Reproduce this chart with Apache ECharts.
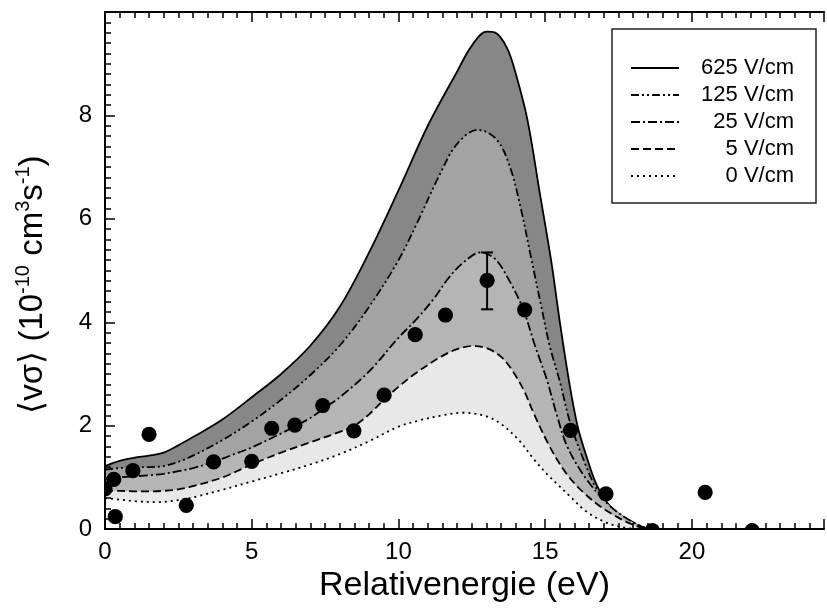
<!DOCTYPE html>
<html>
<head>
<meta charset="utf-8">
<script src="https://cdn.jsdelivr.net/npm/echarts@6/dist/echarts.min.js"></script>
<style>html,body{margin:0;padding:0;background:#fff}#c{width:827px;height:608px}</style>
</head>
<body>
<div id="c"></div>
<script>
// ---- data ----
const names = ['625 V/cm', '125 V/cm', '25 V/cm', '5 V/cm', '0 V/cm'];

const x625 = [0, 0.5, 1, 1.5, 2, 2.5, 3, 4, 5, 6, 7, 8, 9, 10, 11, 12, 12.5, 13, 13.3, 13.7, 14, 14.4, 14.8, 15.2, 15.5, 15.8, 16.1, 16.4, 16.75, 17.2, 17.8, 18.3, 18.6];
const y625 = [1.22, 1.32, 1.38, 1.42, 1.48, 1.62, 1.78, 2.12, 2.55, 3.0, 3.55, 4.3, 5.35, 6.55, 7.8, 8.85, 9.35, 9.62, 9.6, 9.3, 8.8, 7.9, 6.55, 5.2, 4.0, 2.9, 2.0, 1.42, 0.86, 0.45, 0.18, 0.04, 0];

const x125 = [0, 0.5, 1, 1.5, 2, 2.5, 3, 4, 5, 6, 7, 8, 9, 10, 10.7, 11.4, 12, 12.7, 13.35, 13.8, 14.15, 14.5, 14.85, 15.15, 15.5, 15.85, 16.3, 16.75, 17.3, 18, 18.5];
const y125 = [1.15, 1.18, 1.2, 1.2, 1.22, 1.3, 1.42, 1.72, 2.08, 2.5, 2.98, 3.55, 4.3, 5.2, 6.0, 6.85, 7.45, 7.72, 7.53, 7.0, 6.25, 5.3, 4.35, 3.55, 2.85, 2.06, 1.35, 0.78, 0.39, 0.13, 0];

const x25 = [0, 0.5, 1, 1.5, 2, 2.5, 3, 3.7, 4.5, 5, 6, 7, 7.5, 8, 9, 10, 10.6, 11.2, 11.7, 12.2, 12.8, 13.3, 13.8, 14.25, 14.65, 15.05, 15.4, 15.75, 16.4, 17.2, 18, 18.5];
const y25 = [0.98, 1.0, 1.02, 1.04, 1.07, 1.12, 1.18, 1.3, 1.47, 1.58, 1.85, 2.15, 2.35, 2.55, 3.05, 3.7, 4.05, 4.45, 4.85, 5.15, 5.35, 5.22, 4.78, 4.25, 3.55, 2.9, 2.2, 1.6, 0.97, 0.45, 0.13, 0];

const x5 = [0, 0.5, 1, 1.5, 2, 2.5, 3, 4, 5, 6, 7, 8, 8.5, 9, 9.5, 10, 10.6, 11.5, 12, 12.5, 13, 13.5, 13.9, 14.3, 14.6, 15.15, 15.7, 16.3, 17, 17.8, 18.4];
const y5 = [0.74, 0.74, 0.73, 0.73, 0.74, 0.77, 0.83, 1.0, 1.25, 1.48, 1.68, 1.88, 2.0, 2.22, 2.5, 2.75, 3.02, 3.35, 3.48, 3.54, 3.5, 3.33, 3.05, 2.65, 2.25, 1.6, 1.09, 0.71, 0.39, 0.13, 0];

const x0 = [0, 0.5, 1, 1.75, 2.5, 3.2, 4, 5, 6, 7, 8, 9, 10, 10.7, 11.5, 12.2, 13, 13.5, 14.1, 14.6, 15.05, 15.5, 15.85, 16.4, 17.1, 17.6, 18.1];
const y0 = [0.6, 0.57, 0.54, 0.52, 0.56, 0.64, 0.76, 0.92, 1.08, 1.25, 1.45, 1.7, 1.98, 2.1, 2.2, 2.25, 2.18, 2.03, 1.72, 1.36, 1.07, 0.82, 0.63, 0.34, 0.12, 0.04, 0];

const ptX = [0.0, 0.3, 0.35, 0.95, 1.5, 2.77, 3.7, 5.0, 5.68, 6.47, 7.42, 8.48, 9.51, 10.57, 11.6, 13.02, 14.3, 15.86, 17.07, 18.65, 20.45, 22.05];
const ptY = [0.78, 0.96, 0.24, 1.13, 1.83, 0.46, 1.3, 1.31, 1.95, 2.01, 2.39, 1.9, 2.59, 3.76, 4.14, 4.81, 4.24, 1.91, 0.68, -0.03, 0.71, -0.03];

const errX = [13.02];
const errLow = [4.25];
const errHigh = [5.35];

const xTicks = [0, 5, 10, 15, 20];
const yTicks = [0, 2, 4, 6, 8];

// ---- chart ----
const FONT = '"Liberation Sans", Arial, Helvetica, sans-serif';
const fills = ['#878787', '#a3a3a3', '#b5b5b5', '#e8e8e8', '#ffffff'];
const dashes = ['solid', [8, 3, 2, 3, 2, 3], [9, 3, 2, 3], [8, 4], [2, 4]];
const xs = [x625, x125, x25, x5, x0];
const ys = [y625, y125, y25, y5, y0];

const chart = echarts.init(document.getElementById('c'), null, {renderer: 'canvas'});

const lineSeries = names.map((n, i) => ({
  name: n,
  type: 'line',
  data: xs[i].map((x, k) => [x, ys[i][k]]),
  smooth: 0.35,
  symbol: 'none',
  z: 2 + i,
  color: '#000',
  lineStyle: {color: '#000', width: 1.8, type: dashes[i]},
  areaStyle: {color: fills[i], opacity: 1},
  silent: true
}));

const axisCommon = {
  type: 'value',
  min: 0,
  z: 8,
  axisLine: {show: true, onZero: false, lineStyle: {color: '#000', width: 2}},
  axisTick: {show: true, inside: true, length: 10, lineStyle: {color: '#000', width: 1.5}},
  minorTick: {show: true, splitNumber: 10, length: 6, lineStyle: {color: '#000', width: 1.5}},
  splitLine: {show: false},
  minorSplitLine: {show: false}
};

const option = {
  animation: false,
  backgroundColor: '#fff',
  grid: {left: 105, right: 3, top: 12, bottom: 78, containLabel: false},
  xAxis: [
    Object.assign({}, axisCommon, {
      max: 24.5, interval: 5, position: 'bottom',
      axisLabel: {
        show: true, margin: 11, fontSize: 24, fontFamily: FONT, color: '#000',
        showMaxLabel: false,
        formatter: v => (xTicks.indexOf(v) >= 0 ? String(v) : '')
      },
      name: 'Relativenergie (eV)',
      nameLocation: 'middle', nameGap: 36,
      nameTextStyle: {fontSize: 34, fontFamily: FONT, color: '#000'}
    }),
    Object.assign({}, axisCommon, {
      max: 24.5, interval: 5, position: 'top',
      axisLabel: {show: false}
    })
  ],
  yAxis: Object.assign({}, axisCommon, {
    max: 10, interval: 2, position: 'left',
    axisLabel: {
      show: true, margin: 13, fontSize: 24, fontFamily: FONT, color: '#000',
      showMaxLabel: false,
      formatter: v => (yTicks.indexOf(v) >= 0 ? String(v) : '')
    },
    name: '{a|⟨vσ⟩ (10}{s|-10}{a| cm}{s|3}{a|s}{s|-1}{a|)}',
    nameLocation: 'middle', nameRotate: 90, nameGap: 52,
    nameTextStyle: {
      padding: [0, 28, 0, 0],
      rich: {
        a: {fontSize: 33, fontFamily: FONT, color: '#000', lineHeight: 40, verticalAlign: 'middle'},
        s: {fontSize: 20, fontFamily: FONT, color: '#000', lineHeight: 16, verticalAlign: 'top'}
      }
    }
  }),
  legend: {
    show: true,
    data: names,
    orient: 'vertical',
    left: 612, top: 29,
    padding: [28, 22, 16, 18],
    itemWidth: 48, itemHeight: 14, itemGap: 5,
    borderColor: '#222', borderWidth: 1.5, backgroundColor: '#fff',
    selectedMode: false,
    z: 20,
    itemStyle: {color: 'rgba(0,0,0,0)', opacity: 0, borderWidth: 0},
    formatter: n => '{r|' + n + '}',
    textStyle: {
      color: '#000',
      rich: {r: {width: 110, align: 'right', fontSize: 22, lineHeight: 21, fontFamily: FONT, color: '#000'}}
    }
  },
  series: lineSeries.concat([
    {
      name: 'err',
      type: 'custom',
      z: 10,
      clip: true,
      data: errX.map((x, i) => [x, errLow[i], errHigh[i]]),
      renderItem: (params, api) => {
        const lo = api.coord([api.value(0), api.value(1)]);
        const hi = api.coord([api.value(0), api.value(2)]);
        const w = 6;
        const st = {stroke: '#000', lineWidth: 2};
        return {
          type: 'group',
          children: [
            {type: 'line', shape: {x1: lo[0], y1: lo[1], x2: hi[0], y2: hi[1]}, style: st},
            {type: 'line', shape: {x1: lo[0] - w, y1: lo[1], x2: lo[0] + w, y2: lo[1]}, style: st},
            {type: 'line', shape: {x1: hi[0] - w, y1: hi[1], x2: hi[0] + w, y2: hi[1]}, style: st}
          ]
        };
      }
    },
    {
      name: 'pts',
      type: 'custom',
      z: 11,
      clip: true,
      data: ptX.map((x, i) => [x, ptY[i]]),
      renderItem: (params, api) => {
        const p = api.coord([api.value(0), api.value(1)]);
        return {type: 'circle', shape: {cx: p[0], cy: p[1], r: 7.6}, style: {fill: '#000'}};
      }
    }
  ])
};

chart.setOption(option);
</script>
</body>
</html>
